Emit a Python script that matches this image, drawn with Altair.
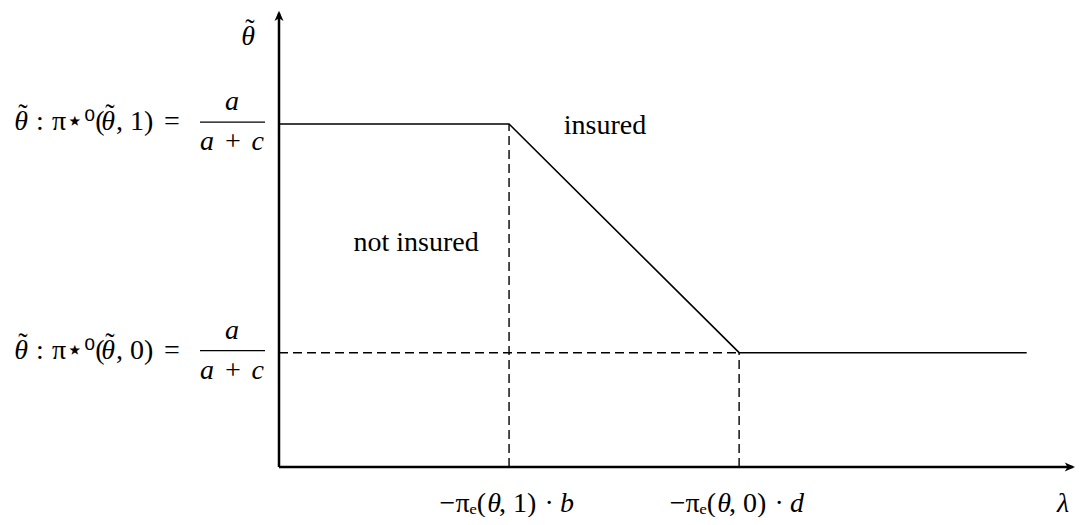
import altair as alt
import pandas as pd

# Solid boundary line (data units: x in "b" steps, y in levels)
line_x = [0, 1, 2, 3.25]
line_y = [3, 3, 1, 1]

# Dashed guide segments
dash_x = [1, 2, 0]
dash_x2 = [1, 2, 2]
dash_y = [0, 0, 1]
dash_y2 = [3, 1, 1]

# Level labels on the vertical axis
levels = [3, 1]
level_arg = ["1", "0"]
level_num = ["a", "a"]
level_den = ["a\u2004+\u2004c", "a\u2004+\u2004c"]

# Tick labels on the horizontal axis: −πₑ(θ, k) · coef
xticks = [1, 2]
xtick_arg = ["1", "0"]
xtick_coef = ["b", "d"]

# Region labels
region_x = [1.417, 0.596]
region_y = [2.98, 1.96]
region_text = ["insured", "not insured"]

# Axes extents
x_max = 3.46
y_max = 3.99

FONT = "Liberation Serif"
FS = 28

xs = alt.Scale(domain=[0, 3.46], nice=False, zero=False)
ys = alt.Scale(domain=[0, 4.015], nice=False, zero=False)

df_line = pd.DataFrame({"x": line_x, "y": line_y})
df_dash = pd.DataFrame({"x": dash_x, "x2": dash_x2, "y": dash_y, "y2": dash_y2})
df_lev = pd.DataFrame({
    "y": levels, "x": [0, 0],
    "num": level_num, "den": level_den,
    "arg": [", " + a + ")" for a in level_arg],
})
df_tick = pd.DataFrame({
    "x": xticks, "y": [0, 0],
    "arg": [", " + a + ")" for a in xtick_arg],
    "coef": xtick_coef,
})
df_reg = pd.DataFrame({"x": region_x, "y": region_y, "t": region_text})
df_axes = pd.DataFrame({"x": [0, 0], "x2": [x_max - 0.01, 0], "y": [0, 0], "y2": [0, y_max - 0.02]})
df_arrow = pd.DataFrame({"x": [0, x_max], "y": [y_max, 0], "a": [0, 90]})
df_origin = pd.DataFrame({"x": [0], "y": [0]})


def X(f="x"):
    return alt.X(f"{f}:Q", scale=xs, axis=None)


def Y(f="y"):
    return alt.Y(f"{f}:Q", scale=ys, axis=None)


axes = alt.Chart(df_axes).mark_rule(color="black", strokeWidth=2.5).encode(
    x=X(), x2="x2:Q", y=Y(), y2="y2:Q")

arrow_path = "M0,0L-0.75,1.7L0,1.25L0.75,1.7Z"
arrows = alt.Chart(df_arrow).mark_point(shape=arrow_path, filled=True, color="black",
                                        size=144, opacity=1).encode(
    x=X(), y=Y(), angle=alt.Angle("a:Q", scale=None))

solid = alt.Chart(df_line).mark_line(color="black", strokeWidth=1.6).encode(x=X(), y=Y())

dashed = alt.Chart(df_dash).mark_rule(color="black", strokeWidth=1.4, strokeDash=[9, 5]).encode(
    x=X(), x2="x2:Q", y=Y(), y2="y2:Q")


def piece(df, text, dx, dy, align="center", italic=False, fs=FS):
    kw = dict(font=FONT, fontSize=fs, align=align, baseline="alphabetic", dx=dx, dy=dy)
    if italic:
        kw["fontStyle"] = "italic"
    ch = alt.Chart(df).mark_text(**kw)
    if text.startswith("field:"):
        return ch.encode(x=X(), y=Y(), text=alt.Text(text[6:] + ":N"))
    return ch.encode(x=X(), y=Y(), text=alt.value(text))


# left-hand side "θ̃ : π⋆⁰(θ̃, k) =" built from pieces
lev_marks = [
    piece(df_lev, "θ", -258, 6, italic=True),
    piece(df_lev, "˜", -256, -1),
    piece(df_lev, ":", -239, 6),
    piece(df_lev, "π⋆⁰(", -227, 6, align="left"),
    piece(df_lev, "θ", -171, 6, italic=True),
    piece(df_lev, "˜", -169, -1),
    piece(df_lev, "field:arg", -163, 6, align="left"),
    piece(df_lev, "=", -107, 6),
    piece(df_lev, "field:num", -47, -14, italic=True),
    piece(df_lev, "field:den", -47, 26, italic=True),
]
bar = alt.Chart(df_lev).mark_rule(color="black", strokeWidth=1.3).encode(
    x=alt.value(-79), x2=alt.value(-14), y=Y(), yOffset=alt.value(-2))

# x tick labels "−πₑ(θ, k) · coef" built from pieces
tick_marks = [
    piece(df_tick, "−πₑ(", -23, 45, align="right"),
    piece(df_tick, "θ", -15, 45, italic=True),
    piece(df_tick, "field:arg", -10, 45, align="left"),
    piece(df_tick, "·", 40, 45),
    piece(df_tick, "field:coef", 58, 45, italic=True),
]

regions = alt.Chart(df_reg).mark_text(font=FONT, fontSize=FS, align="center", baseline="middle").encode(
    x=X(), y=Y(), text="t:N")

# axis names
ax_marks = [
    piece(df_origin, "θ", -31, -422, italic=True),
    piece(df_origin, "˜", -29, -429),
    piece(df_origin, "λ", 784, 45, italic=True),
]

chart = alt.layer(dashed, solid, axes, arrows, *lev_marks, bar, *tick_marks, regions, *ax_marks).properties(
    width=796, height=459,
    autosize=alt.AutoSizeParams(type="none"),
    padding={"left": 271, "top": 0, "right": 0, "bottom": 50},
    background="white",
).configure_view(strokeWidth=0)

chart.save("out.html", embed_options={"renderer": "svg", "actions": False})
